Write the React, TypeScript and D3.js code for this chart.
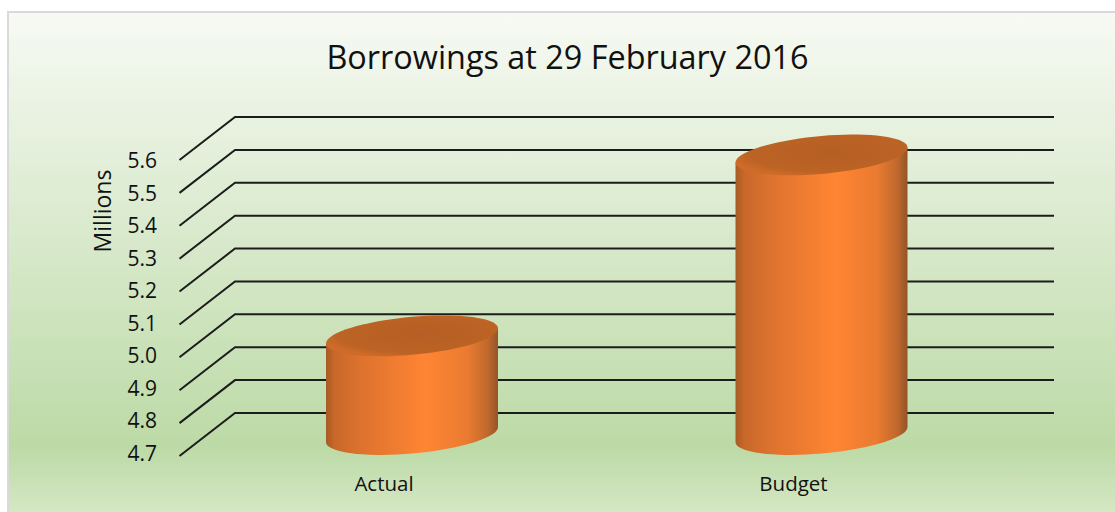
import * as d3 from 'd3'

const categories = ['Actual', 'Budget']
const values = [5.0, 5.55]
const ticks = [4.7, 4.8, 4.9, 5.0, 5.1, 5.2, 5.3, 5.4, 5.5, 5.6]
const title = 'Borrowings at 29 February 2016'
const axisTitle = 'Millions'

const width = 1115, height = 512
// oblique depth of the 3d floor
const depthX = 55.5, depthY = -43

const y = d3.scaleLinear().domain([4.7, 5.6]).range([456, 160])
// tick labels sit on a slightly tighter spacing than the walls
const yLabel = d3.scaleLinear().domain([4.7, 5.6]).range([461, 168])
const x = d3.scaleBand().domain(categories).range([179.5 + depthX / 2, 1054 - depthX / 2])

const ellipse = (cx: number, cy: number, rx: number, ry: number, skew: number) => {
  const pts = d3.range(0, 73).map(i => {
    const t = (i / 72) * Math.PI * 2
    return [cx + rx * Math.cos(t), cy + ry * Math.sin(t) - skew * Math.cos(t)] as [number, number]
  })
  return d3.line()(pts) + 'Z'
}

// wall: left edge down, along the lower half of the bottom ellipse, right edge up
const wall = (cx: number, top: number, bottom: number, rx: number, ry: number, skew: number) => {
  const pts = d3.range(0, 37).map(i => {
    const t = (i / 36) * Math.PI
    return [cx + rx * Math.cos(t), bottom + ry * Math.sin(t) - skew * Math.cos(t)] as [number, number]
  })
  const up: [number, number][] = [[cx - rx, top + skew], [cx + rx, top - skew]]
  return d3.line()([up[1], ...pts, up[0]]) + 'Z'
}

export default function App() {
  const rx = x.bandwidth() * 0.21
  const ry = 19
  const skew = 7.5
  const floor = y(4.7) + depthY / 2
  return (
    <svg width={width} height={height} style={{ position: 'absolute', left: 0, top: 0 }} fontFamily="'Open Sans', sans-serif">
      <defs>
        <linearGradient id="bg" gradientUnits="userSpaceOnUse" x1="0" x2="0" y1="12" y2="512">
          <stop offset="0" stopColor="#f7faf4" />
          <stop offset="0.87" stopColor="#bcdaa6" />
          <stop offset="1" stopColor="#d5e7c4" />
        </linearGradient>
        <linearGradient id="side" x1="0" x2="1" y1="0" y2="0">
          <stop offset="0" stopColor="#a85a24" />
          <stop offset="0.05" stopColor="#c8682a" />
          <stop offset="0.2" stopColor="#dd722e" />
          <stop offset="0.58" stopColor="#ff8533" />
          <stop offset="0.82" stopColor="#ea7b31" />
          <stop offset="0.94" stopColor="#c0692d" />
          <stop offset="1" stopColor="#935428" />
        </linearGradient>
        <radialGradient id="cap" cx="0.55" cy="0.45" r="0.6">
          <stop offset="0" stopColor="#b65f24" />
          <stop offset="0.8" stopColor="#bc6325" />
          <stop offset="1" stopColor="#cf6b28" />
        </radialGradient>
      </defs>
      <rect x={8} y={12} width={width} height={height} fill="url(#bg)" stroke="#d9d9d9" strokeWidth={2} />
      <text x={567.5} y={69} fontSize={32.4} textAnchor="middle" fill="#111">{title}</text>
      <text transform="translate(111,211) rotate(-90)" fontSize={23} textAnchor="middle" fill="#111">{axisTitle}</text>
      {ticks.map(t => (
        <g key={t}>
          <path
            d={`M${179.5},${y(t)}L${179.5 + depthX},${y(t) + depthY}H1054`}
            fill="none"
            stroke="#1c1c1c"
            strokeWidth={2}
          />
          <text x={157} y={yLabel(t)} fontSize={21} textAnchor="end" fill="#111">{t.toFixed(1)}</text>
        </g>
      ))}
      {categories.map((c, i) => {
        const cx = x(c)! + x.bandwidth() / 2
        const top = y(values[i]) + depthY / 2
        return (
          <g key={c}>
            <path d={wall(cx, top, floor, rx, ry, skew)} fill="url(#side)" />
            <path d={ellipse(cx, top, rx, ry, skew)} fill="url(#cap)" />
            <text x={cx - 28} y={491} fontSize={20.5} textAnchor="middle" fill="#111">{c}</text>
          </g>
        )
      })}
    </svg>
  )
}
